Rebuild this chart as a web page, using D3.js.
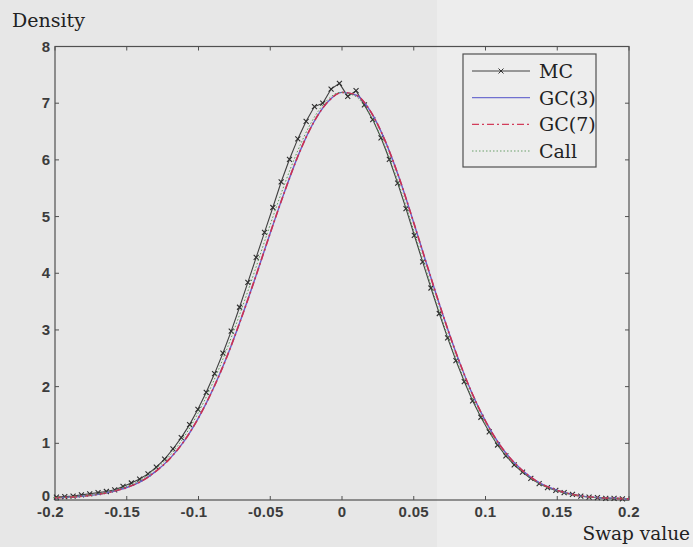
<!DOCTYPE html>
<html>
<head>
<meta charset="utf-8">
<script src="https://cdn.jsdelivr.net/npm/d3@7"></script>
<style>
  body { margin: 0; background: #e7e7e7; }
  svg { display: block; }
</style>
</head>
<body>
<div id="chart"></div>
<script>
// Monte Carlo histogram (bin centres and density)
const mcX = [-0.1990, -0.1932, -0.1874, -0.1816, -0.1758, -0.1700, -0.1642, -0.1584, -0.1526, -0.1468,
  -0.1410, -0.1352, -0.1294, -0.1236, -0.1178, -0.1120, -0.1062, -0.1004, -0.0946, -0.0888,
  -0.0830, -0.0772, -0.0714, -0.0656, -0.0598, -0.0540, -0.0482, -0.0424, -0.0366, -0.0308,
  -0.0250, -0.0192, -0.0134, -0.0076, -0.0018, 0.0040, 0.0098, 0.0156, 0.0214, 0.0272,
  0.0330, 0.0388, 0.0446, 0.0504, 0.0562, 0.0620, 0.0678, 0.0736, 0.0794, 0.0852,
  0.0910, 0.0968, 0.1026, 0.1084, 0.1142, 0.1200, 0.1258, 0.1316, 0.1374, 0.1432,
  0.1490, 0.1548, 0.1606, 0.1664, 0.1722, 0.1780, 0.1838, 0.1896, 0.1954];
const mcY = [0.05, 0.06, 0.07, 0.09, 0.11, 0.13, 0.15, 0.18, 0.24, 0.30,
  0.37, 0.46, 0.58, 0.72, 0.90, 1.10, 1.33, 1.60, 1.90, 2.23,
  2.59, 2.98, 3.40, 3.84, 4.28, 4.72, 5.16, 5.61, 6.01, 6.37,
  6.68, 6.94, 7.00, 7.25, 7.35, 7.12, 7.22, 6.97, 6.71, 6.39,
  6.01, 5.59, 5.14, 4.67, 4.20, 3.74, 3.29, 2.86, 2.46, 2.09,
  1.75, 1.46, 1.20, 0.97, 0.78, 0.62, 0.49, 0.38, 0.29, 0.22,
  0.17, 0.13, 0.10, 0.07, 0.05, 0.04, 0.03, 0.03, 0.02];

// Approximations on a regular grid
const gcX = [-0.20, -0.19, -0.18, -0.17, -0.16, -0.15, -0.14, -0.13, -0.12, -0.11,
  -0.10, -0.09, -0.08, -0.07, -0.06, -0.05, -0.04, -0.03, -0.02, -0.01,
  0.00, 0.01, 0.02, 0.03, 0.04, 0.05, 0.06, 0.07, 0.08, 0.09,
  0.10, 0.11, 0.12, 0.13, 0.14, 0.15, 0.16, 0.17, 0.18, 0.19, 0.20];
const gc3 = [0.04, 0.05, 0.07, 0.10, 0.15, 0.22, 0.33, 0.50, 0.73, 1.04,
  1.45, 1.95, 2.54, 3.22, 3.95, 4.71, 5.44, 6.11, 6.65, 7.02,
  7.19, 7.14, 6.85, 6.34, 5.67, 4.89, 4.08, 3.29, 2.56, 1.92,
  1.39, 0.97, 0.66, 0.43, 0.27, 0.17, 0.10, 0.06, 0.04, 0.03, 0.02];
const gc7 = [0.04, 0.05, 0.07, 0.10, 0.15, 0.22, 0.33, 0.50, 0.73, 1.04,
  1.45, 1.95, 2.54, 3.22, 3.95, 4.71, 5.44, 6.11, 6.65, 7.02,
  7.19, 7.14, 6.85, 6.34, 5.67, 4.89, 4.08, 3.29, 2.56, 1.92,
  1.39, 0.97, 0.66, 0.43, 0.27, 0.17, 0.10, 0.06, 0.04, 0.03, 0.02];
const call = [0.04, 0.05, 0.07, 0.10, 0.15, 0.23, 0.34, 0.52, 0.75, 1.07,
  1.49, 2.00, 2.60, 3.28, 4.01, 4.77, 5.49, 6.14, 6.67, 7.03,
  7.19, 7.13, 6.83, 6.31, 5.63, 4.85, 4.04, 3.26, 2.54, 1.91,
  1.39, 0.97, 0.66, 0.43, 0.27, 0.17, 0.10, 0.06, 0.04, 0.03, 0.02];

const xTicks = [-0.2, -0.15, -0.1, -0.05, 0, 0.05, 0.1, 0.15, 0.2];
const yTicks = [0, 1, 2, 3, 4, 5, 6, 7, 8];
const legendNames = ["MC", "GC(3)", "GC(7)", "Call"];

const W = 693, H = 547;
const x = d3.scaleLinear().domain([-0.2, 0.2]).range([55, 629]);
const y = d3.scaleLinear().domain([0, 8]).range([500, 46.5]);

const svg = d3.select("#chart").append("svg")
  .attr("width", W).attr("height", H);

// scanned page tone
svg.append("rect").attr("width", W).attr("height", H).attr("fill", "#e7e7e7");
svg.append("rect").attr("x", 437).attr("width", W - 437).attr("height", H).attr("fill", "#ededed");

const axisCol = "#505050";
const tickFont = "'Liberation Sans', Arial, sans-serif";
const serif = "'DejaVu Serif', serif";

// frame
svg.append("rect")
  .attr("x", x(-0.2)).attr("y", y(8))
  .attr("width", x(0.2) - x(-0.2)).attr("height", y(0) - y(8))
  .attr("fill", "none").attr("stroke", axisCol).attr("stroke-width", 1.2);

// inward ticks on all four sides
const tk = svg.append("g").attr("stroke", axisCol).attr("stroke-width", 1);
xTicks.forEach(t => {
  tk.append("line").attr("x1", x(t)).attr("x2", x(t)).attr("y1", y(0)).attr("y2", y(0) - 4);
  tk.append("line").attr("x1", x(t)).attr("x2", x(t)).attr("y1", y(8)).attr("y2", y(8) + 4);
});
yTicks.forEach(t => {
  tk.append("line").attr("x1", x(-0.2)).attr("x2", x(-0.2) + 4).attr("y1", y(t)).attr("y2", y(t));
  tk.append("line").attr("x1", x(0.2)).attr("x2", x(0.2) - 4).attr("y1", y(t)).attr("y2", y(t));
});

// tick labels
svg.append("g").selectAll("text").data(xTicks).join("text")
  .attr("x", d => x(d) + (d < 0 ? -4.5 : 0))
  .attr("y", 517)
  .attr("text-anchor", "middle")
  .attr("font-family", tickFont).attr("font-size", 15).attr("font-weight", "bold")
  .attr("letter-spacing", 0.3)
  .attr("fill", "#3c3c3c")
  .text(d => d === 0 ? "0" : String(d));

svg.append("g").selectAll("text").data(yTicks).join("text")
  .attr("x", 50)
  .attr("y", d => y(d) + (d === 0 ? 1 : 5))
  .attr("text-anchor", "end")
  .attr("font-family", tickFont).attr("font-size", 15).attr("font-weight", "bold")
  .attr("fill", "#3c3c3c")
  .text(d => d);

// axis titles
svg.append("text").attr("x", 12).attr("y", 27)
  .attr("font-family", serif).attr("font-size", 19).attr("fill", "#222")
  .text("Density");
svg.append("text").attr("x", 690).attr("y", 540).attr("text-anchor", "end")
  .attr("font-family", serif).attr("font-size", 18.5).attr("fill", "#222")
  .text("Swap value");

// curves
const plot = svg.append("g");
const gcLine = d3.line().x(d => x(d[0])).y(d => y(d[1])).curve(d3.curveMonotoneX);
const mcLine = d3.line().x(d => x(d[0])).y(d => y(d[1]));

const mcData = mcX.map((v, i) => [v, mcY[i]]);

plot.append("path").datum(mcData)
  .attr("d", mcLine).attr("fill", "none")
  .attr("stroke", "#404040").attr("stroke-width", 1.1);

const xMark = "M-2.5,-2.5L2.5,2.5M-2.5,2.5L2.5,-2.5";
plot.append("g").selectAll("path").data(mcData).join("path")
  .attr("transform", d => `translate(${x(d[0])},${y(d[1])})`)
  .attr("d", xMark).attr("stroke", "#2e2e2e").attr("stroke-width", 1.1).attr("fill", "none");

plot.append("path").datum(gcX.map((v, i) => [v, gc3[i]]))
  .attr("d", gcLine).attr("fill", "none")
  .attr("stroke", "#6a5cc8").attr("stroke-width", 1.4);
plot.append("path").datum(gcX.map((v, i) => [v, gc7[i]]))
  .attr("d", gcLine).attr("fill", "none")
  .attr("stroke", "#cc3050").attr("stroke-width", 1.6)
  .attr("stroke-dasharray", "7,3,2,3");
plot.append("path").datum(gcX.map((v, i) => [v - 0.0012, call[i]]))
  .attr("d", gcLine).attr("fill", "none")
  .attr("stroke", "#5a9a5a").attr("stroke-width", 1)
  .attr("stroke-dasharray", "1.5,2");

// legend
const lg = svg.append("g");
lg.append("rect").attr("x", 463).attr("y", 54).attr("width", 133).attr("height", 113)
  .attr("fill", "#ededed").attr("stroke", axisCol).attr("stroke-width", 1.2);
const rowY = [71, 97.7, 124.3, 151];
const styles = [
  { stroke: "#404040", dash: null, w: 1 },
  { stroke: "#7070d0", dash: null, w: 1.2 },
  { stroke: "#d23c5a", dash: "7,3,2,3", w: 1.3 },
  { stroke: "#6aa06a", dash: "1.5,2", w: 1.2 }
];
legendNames.forEach((name, i) => {
  lg.append("line").attr("x1", 472).attr("x2", 530).attr("y1", rowY[i]).attr("y2", rowY[i])
    .attr("stroke", styles[i].stroke).attr("stroke-width", styles[i].w)
    .attr("stroke-dasharray", styles[i].dash);
  lg.append("text").attr("x", 539).attr("y", rowY[i] + 7)
    .attr("font-family", serif).attr("font-size", 19).attr("fill", "#222")
    .text(name);
});
lg.append("path").attr("transform", `translate(501,${rowY[0]})`)
  .attr("d", xMark).attr("stroke", "#333").attr("fill", "none");
</script>
</body>
</html>
